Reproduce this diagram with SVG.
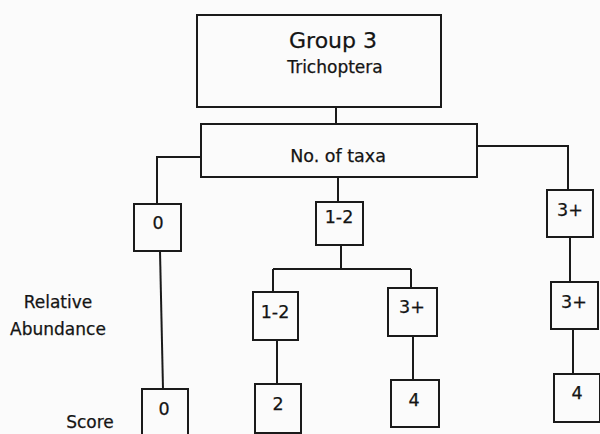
<svg xmlns="http://www.w3.org/2000/svg" width="600" height="434" viewBox="0 0 600 434">
  <style>
    .box { fill: none; stroke: #1a1a1a; stroke-width: 2; }
    .wire { fill: none; stroke: #1a1a1a; stroke-width: 2; }
    text { font-family: "DejaVu Sans", Verdana, sans-serif; fill: #141414; stroke: #141414; stroke-width: 0.25; }
    .val { font-size: 17.5px; text-anchor: middle; }
    .side { font-size: 17px; text-anchor: middle; }
  </style>
  <rect width="600" height="434" fill="#fbfbfb"/>

  <!-- connectors -->
  <g id="connectors">
    <path class="wire" d="M336 107 V124"/>
    <path class="wire" d="M201 157 H157 V204"/>
    <path class="wire" d="M338 177 V202"/>
    <path class="wire" d="M477 146 H568 V190"/>
    <path class="wire" d="M160 251 L163 389"/>
    <path class="wire" d="M341 245 V269 M273 269 H411 M273 269 V292 M411 269 V288"/>
    <path class="wire" d="M277 340 V384"/>
    <path class="wire" d="M413 336 V380"/>
    <path class="wire" d="M570 237 V282"/>
    <path class="wire" d="M573 329 V374"/>
  </g>

  <!-- root -->
  <g id="group3">
    <rect class="box" x="197" y="15" width="244" height="92"/>
    <text x="333" y="48" font-size="22" text-anchor="middle">Group 3</text>
    <text x="335" y="73" font-size="17" text-anchor="middle">Trichoptera</text>
  </g>

  <g id="taxa">
    <rect class="box" x="201" y="124" width="276" height="53"/>
    <text x="338" y="162" font-size="17.5" text-anchor="middle">No. of taxa</text>
  </g>

  <!-- number of taxa -->
  <g id="taxa-0">
    <rect class="box" x="134" y="204" width="47" height="47"/>
    <text class="val" x="158" y="229">0</text>
  </g>
  <g id="taxa-1-2">
    <rect class="box" x="316" y="202" width="47" height="43"/>
    <text class="val" x="339" y="223">1-2</text>
  </g>
  <g id="taxa-3plus">
    <rect class="box" x="547" y="190" width="46" height="47"/>
    <text class="val" x="570" y="216">3+</text>
  </g>

  <!-- relative abundance -->
  <g id="abund-1-2">
    <rect class="box" x="253" y="292" width="45" height="48"/>
    <text class="val" x="275" y="318">1-2</text>
  </g>
  <g id="abund-3plus-a">
    <rect class="box" x="388" y="288" width="49" height="48"/>
    <text class="val" x="412" y="313">3+</text>
  </g>
  <g id="abund-3plus-b">
    <rect class="box" x="551" y="282" width="47" height="47"/>
    <text class="val" x="574" y="308">3+</text>
  </g>

  <!-- scores -->
  <g id="score-0">
    <rect class="box" x="142" y="389" width="46" height="50"/>
    <text class="val" x="164" y="415">0</text>
  </g>
  <g id="score-2">
    <rect class="box" x="255" y="384" width="46" height="49"/>
    <text class="val" x="278" y="410">2</text>
  </g>
  <g id="score-4-a">
    <rect class="box" x="391" y="380" width="48" height="47"/>
    <text class="val" x="414" y="406">4</text>
  </g>
  <g id="score-4-b">
    <rect class="box" x="554" y="374" width="46" height="48"/>
    <text class="val" x="577" y="399">4</text>
  </g>

  <!-- row labels -->
  <g id="labels">
    <text class="side" x="58" y="308">Relative</text>
    <text class="side" x="58" y="335">Abundance</text>
    <text class="side" x="90" y="428">Score</text>
  </g>
</svg>
